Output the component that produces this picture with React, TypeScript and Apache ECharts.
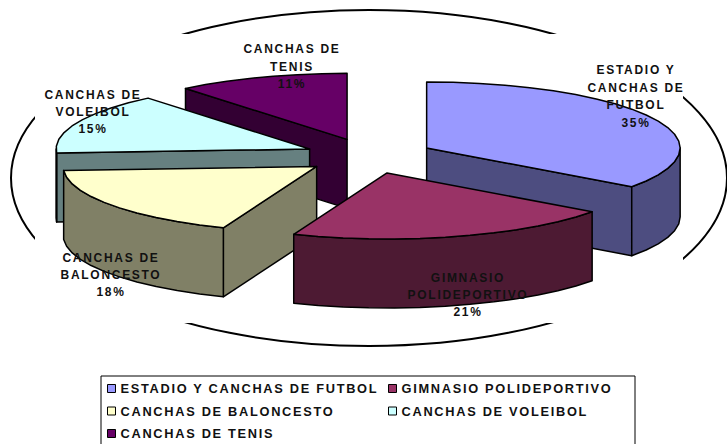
import React, { useEffect, useRef } from "react";
import * as echarts from "echarts";

const categories = [
  "ESTADIO Y CANCHAS DE FUTBOL",
  "GIMNASIO POLIDEPORTIVO",
  "CANCHAS DE BALONCESTO",
  "CANCHAS DE VOLEIBOL",
  "CANCHAS DE TENIS",
];
const values = [35, 21, 18, 15, 11];
const labelTexts = [
  "ESTADIO Y\nCANCHAS DE\nFUTBOL",
  "GIMNASIO\nPOLIDEPORTIVO",
  "CANCHAS DE\nBALONCESTO",
  "CANCHAS DE\nVOLEIBOL",
  "CANCHAS DE\nTENIS",
];
const topColors = ["#9999FF", "#993366", "#FFFFCC", "#CCFFFF", "#660066"];
const wallColors = ["#4D4D80", "#4D1A33", "#808066", "#668080", "#330033"];
// painter's order of the exploded slices
const sliceZ = [3, 6, 5, 4, 2];
// label centres, per slice
const labelX = [636, 468, 111, 93, 292];
const labelY = [96.5, 295, 275, 112, 66.5];

const CX = 369, CY = 156, RX = 253.5, RY = 66, DEPTH = 69, EX = 64.7, EY = 17.7;
const rad = (d: number) => (d * Math.PI) / 180;
const total = values.reduce((a, b) => a + b, 0);
const starts = values.map((_, i) => (values.slice(0, i).reduce((a, b) => a + b, 0) / total) * 360);

function sliceChildren(i: number) {
  const start = starts[i];
  const end = start + (values[i] / total) * 360;
  const mid = (start + end) / 2;
  const ax = CX + EX * Math.sin(rad(mid));
  const ay = CY - EY * Math.cos(rad(mid));
  const pt = (deg: number): number[] => [ax + RX * Math.sin(rad(deg)), ay - RY * Math.cos(rad(deg))];
  const down = (p: number[]) => [p[0], p[1] + DEPTH];
  const arc = (a: number, b: number) => {
    const n = Math.max(1, Math.ceil((b - a) / 6));
    const pts: number[][] = [];
    for (let k = 0; k <= n; k++) pts.push(pt(a + ((b - a) * k) / n));
    return pts;
  };
  const apex = [ax, ay];
  const children: any[] = [];
  const poly = (points: number[][], fill: string) =>
    children.push({
      type: "polygon",
      shape: { points },
      style: { fill, stroke: "#000", lineWidth: 1.5, lineJoin: "round" },
    });
  const faceVisible = (deg: number) => Math.cos(rad(deg)) < -1e-6;
  if (faceVisible(start - 90)) {
    const p = pt(start);
    poly([apex, p, down(p), down(apex)], wallColors[i]);
  }
  if (faceVisible(end + 90)) {
    const p = pt(end);
    poly([apex, p, down(p), down(apex)], wallColors[i]);
  }
  const a0 = Math.max(start, 90);
  const a1 = Math.min(end, 270);
  if (a1 > a0) {
    const top = arc(a0, a1);
    poly([...top, ...top.slice().reverse().map(down)], wallColors[i]);
  }
  poly([apex, ...arc(start, end)], topColors[i]);
  return children;
}

const sliceSeries = categories.map((name, i) => ({
  type: "custom",
  name,
  coordinateSystem: "none",
  z: sliceZ[i],
  silent: true,
  itemStyle: { color: topColors[i] },
  data: [[values[i]]],
  renderItem: () => ({ type: "group", children: sliceChildren(i) }),
}));

const labelSeries = {
  type: "custom",
  name: "labels",
  coordinateSystem: "none",
  z: 10,
  silent: true,
  data: values.map((v) => [v]),
  renderItem: (params: any) => {
    const i = params.dataIndex;
    return {
      type: "text",
      x: labelX[i],
      y: labelY[i],
      style: {
        text: `${labelTexts[i]}\n${values[i]}%`,
        fill: "#111",
        font: 'bold 12px "Liberation Sans", Arial, sans-serif',
        lineHeight: 17.4,
        align: "center",
        verticalAlign: "middle",
      },
    };
  },
};

const legendItem = (i: number) => ({
  name: categories[i],
  icon: "rect",
  itemStyle: { color: topColors[i], borderColor: "#000", borderWidth: 1 },
});
const legendBase = {
  orient: "vertical",
  top: 382,
  itemWidth: 8,
  itemHeight: 8,
  itemGap: 9.5,
  padding: 0,
  selectedMode: false,
  textStyle: {
    color: "#111",
    fontFamily: '"Liberation Sans", Arial, sans-serif',
    fontWeight: "bold",
    fontSize: 12.8,
    lineHeight: 13,
  },
};

export default function App() {
  const ref = useRef<HTMLDivElement>(null);
  useEffect(() => {
    document.body.style.margin = "0";
    const chart = echarts.init(ref.current!, undefined, { renderer: "svg" });
    chart.setOption({
      animation: false,
      backgroundColor: "#fff",
      tooltip: { show: false },
      legend: [
        { ...legendBase, left: 107, data: [0, 2, 4].map(legendItem) },
        { ...legendBase, left: 388, data: [1, 3].map(legendItem) },
      ],
      graphic: [
        { type: "ellipse", z: 0, silent: true, shape: { cx: 369, cy: 178, rx: 358, ry: 168 }, style: { fill: "none", stroke: "#000", lineWidth: 2 } },
        { type: "rect", z: 1, silent: true, shape: { x: 35, y: 34, width: 648, height: 289 }, style: { fill: "#fff" } },
        { type: "rect", z: 1, silent: true, shape: { x: 101, y: 376, width: 534, height: 80 }, style: { fill: "#fff", stroke: "#000", lineWidth: 1 } },
      ],
      series: [...sliceSeries, labelSeries],
    });
    return () => chart.dispose();
  }, []);
  return (
    <div
      ref={ref}
      style={{ position: "fixed", left: 0, top: 0, width: 727, height: 444, letterSpacing: "1.7px" }}
    />
  );
}
